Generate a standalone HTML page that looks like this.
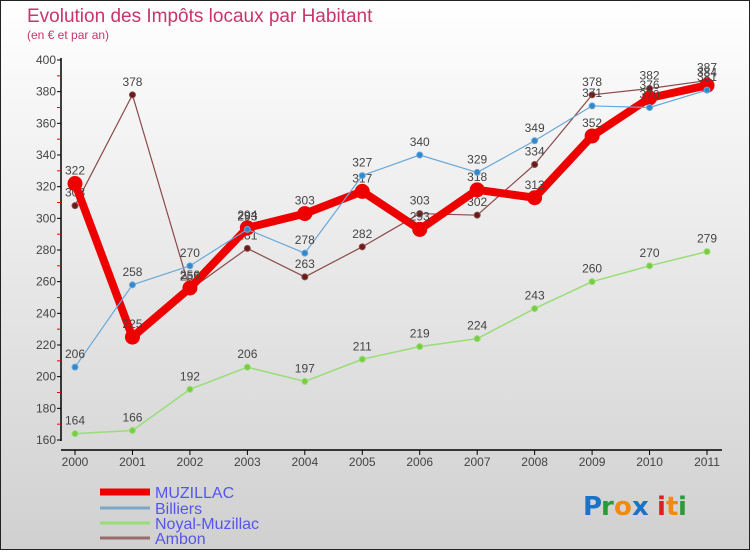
<!DOCTYPE html>
<html><head><meta charset="utf-8"><style>
body{margin:0;width:750px;height:550px;overflow:hidden;font-family:"Liberation Sans","DejaVu Sans",sans-serif}
</style></head><body>
<svg id="c" width="750" height="550" xmlns="http://www.w3.org/2000/svg">
<defs><linearGradient id="bg" x1="0" y1="0" x2="0" y2="1"><stop offset="0" stop-color="#ffffff"/><stop offset="1" stop-color="#d0d0d0"/></linearGradient></defs>
<rect x="0.5" y="0.5" width="749" height="549" fill="url(#bg)" stroke="#222"/>
<text x="27" y="22" font-size="19" fill="#c8356a">Evolution des Impôts locaux par Habitant</text>
<text x="27" y="39" font-size="12" fill="#c8356a">(en € et par an)</text>
<g id="axes"></g><g id="series"></g><g id="legend"></g>
<g font-size="26" font-family="DejaVu Sans,sans-serif" font-weight="bold">
<text x="583" y="515" fill="#1a73c8">P</text><text x="601" y="515" fill="#2a9a3a">r</text><text x="614" y="515" fill="#f08a10">o</text><text x="632" y="515" fill="#1a73c8">x</text><text x="657" y="515" fill="#e02020">i</text><text x="666" y="515" fill="#f08a10">t</text><text x="678" y="515" fill="#2a9a3a">i</text></g>
</svg>
<script>
const years=[2000,2001,2002,2003,2004,2005,2006,2007,2008,2009,2010,2011];
const muzillac=[322,225,256,294,303,317,293,318,313,352,376,384];
const billiers=[206,258,270,293,278,327,340,329,349,371,370,381];
const noyal=[164,166,192,206,197,211,219,224,243,260,270,279];
const ambon=[308,378,255,281,263,282,303,302,334,378,382,387];
const yTicks=[160,180,200,220,240,260,280,300,320,340,360,380,400];
const NS="http://www.w3.org/2000/svg";
const x=i=>75+i*(707-75)/11;
const y=v=>440-(v-160)*380/240;
function mk(t,a,p){const e=document.createElementNS(NS,t);for(const k in a)e.setAttribute(k,a[k]);p.appendChild(e);return e;}
const ax=document.getElementById('axes');
let l=mk('line',{x1:61,y1:58,x2:61,y2:441,stroke:'#000','stroke-width':1.5},ax);

l=mk('line',{x1:61,y1:450,x2:722,y2:450,stroke:'#000','stroke-width':1.5},ax);

yTicks.forEach((v,i)=>{mk('line',{x1:57,y1:y(v),x2:61,y2:y(v),stroke:'#000'},ax);
 if(i<yTicks.length-1)mk('line',{x1:57,y1:y(v+10),x2:61,y2:y(v+10),stroke:'#e00'},ax);
 const t=mk('text',{x:56,y:y(v)+4,'text-anchor':'end','font-size':12,fill:'#444'},ax);t.textContent=v;
 });
years.forEach((yr,i)=>{mk('line',{x1:x(i),y1:450,x2:x(i),y2:455,stroke:'#000'},ax);
 const t=mk('text',{x:x(i),y:466,'text-anchor':'middle','font-size':12,fill:'#444'},ax);t.textContent=yr;
 });
const S=document.getElementById('series');
function series(vals,name,col,w,r,dot){
 const g=mk('g',{},S);
 mk('polyline',{points:vals.map((v,i)=>x(i)+','+y(v)).join(' '),fill:'none',stroke:col,'stroke-width':w,'stroke-linejoin':'round'},g);
 vals.forEach((v,i)=>{const c=mk('circle',{cx:x(i),cy:y(v),r:r,fill:dot,stroke:col,'stroke-width':1},g);
  
  const t=mk('text',{x:x(i),y:y(v)-9,'text-anchor':'middle','font-size':12,fill:'#444'},g);t.textContent=v;
  });
}
series(noyal,'noyal-muzillac','#99dd77',1.5,3,'#77cc44');
series(ambon,'ambon','#8b4a4a',1.2,3,'#6b1a1a');
series(muzillac,'muzillac','#ee0000',8,7,'#ee0000');
series(billiers,'billiers','#6aa8d8',1.2,3,'#3388cc');
const L=document.getElementById('legend');
[['MUZILLAC','#ee0000',7,492],['Billiers','#7aa8c8',3,508],['Noyal-Muzillac','#99dd77',3,523],['Ambon','#9a6a6a',3,538]].forEach(d=>{
 const g=mk('g',{},L);
 mk('line',{x1:100,y1:d[3],x2:150,y2:d[3],stroke:d[1],'stroke-width':d[2]},g);
 const t=mk('text',{x:155,y:d[3]+6,'font-size':16,fill:'#5555ee'},g);t.textContent=d[0];});
</script>
</body></html>
